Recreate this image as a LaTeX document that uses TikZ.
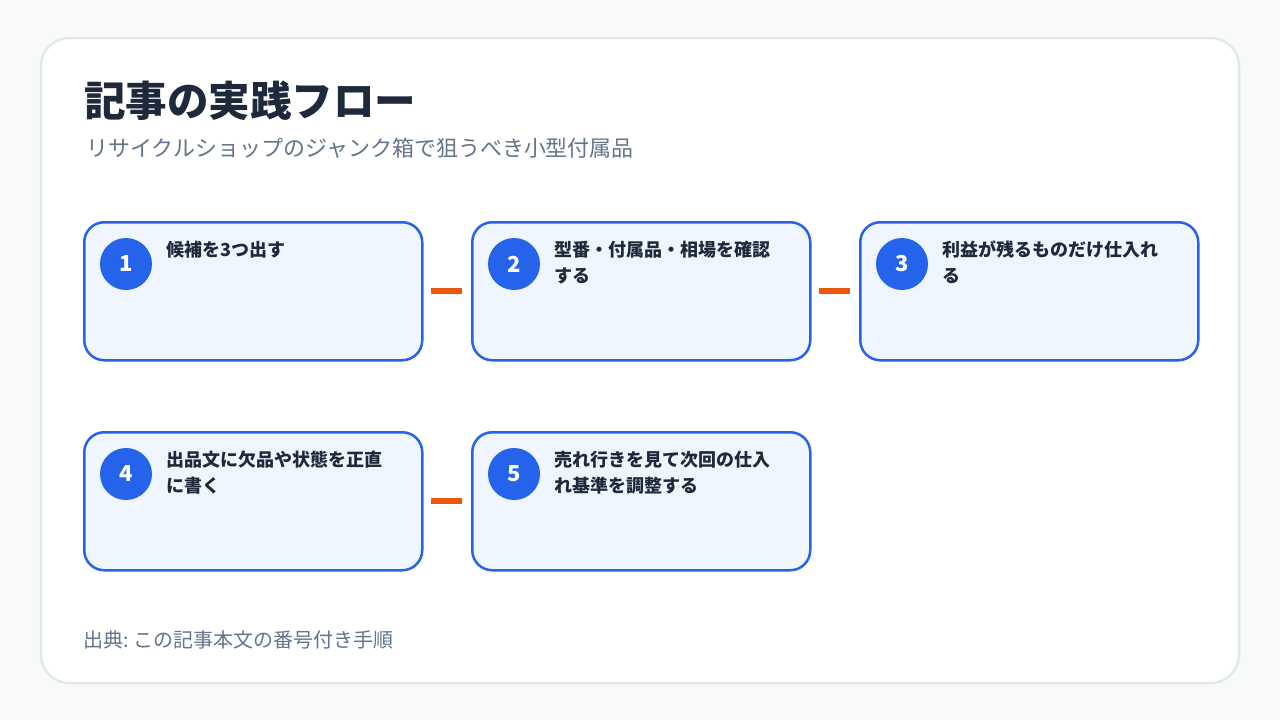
\documentclass[tikz,border=0pt]{standalone}
\usepackage{fontspec}
\setmainfont{Noto Sans CJK JP}
\usetikzlibrary{positioning}

\definecolor{pagebg}{HTML}{F8FAF9}
\definecolor{cardline}{HTML}{E2E8F0}
\definecolor{flowblue}{HTML}{2563EB}
\definecolor{stepfill}{HTML}{EFF6FF}
\definecolor{inktext}{HTML}{1E293B}
\definecolor{mutedtext}{HTML}{64748B}
\definecolor{linkorange}{HTML}{EA580C}

\tikzset{
  stepcard/.style={draw=flowblue, line width=2.5pt, fill=stepfill, rounded corners=20pt,
    minimum width=338pt, minimum height=138pt, anchor=north west, inner sep=0pt},
  stepnum/.style={circle, fill=flowblue, minimum size=52pt, inner sep=0pt, text=white,
    font=\bfseries\fontsize{22}{22}\selectfont},
  steptext/.style={anchor=north west, align=left, inner sep=0pt, text=inktext,
    font=\bfseries\fontsize{18}{26}\selectfont},
  flowlink/.style={draw=linkorange, line width=6pt, shorten <=7.5pt, shorten >=9.5pt}
}

\begin{document}
\begin{tikzpicture}[x=1pt, y=-1pt]
        % Page and card
        \fill[pagebg] (0,0) rectangle (1280,720);
        \useasboundingbox (0,0) rectangle (1280,720);
        \filldraw[fill=white, draw=cardline, line width=2.5pt, rounded corners=28pt] (41,38) rectangle (1239,683);

        % Heading
        \node[anchor=west, inner sep=0pt, text=inktext, font=\bfseries\fontsize{41.5}{42}\selectfont] (title) at (84,101) {記事の実践フロー};
        \node[anchor=west, inner sep=0pt, text=mutedtext, font=\fontsize{22}{22}\selectfont] (subtitle) at (86,148) {リサイクルショップのジャンク箱で狙うべき小型付属品};

        % Step cards, first row
        \node[stepcard] (s1) at (83,221) {};
        \node[stepcard] (s2) at (471,221) {};
        \node[stepcard] (s3) at (859,221) {};

        % Step cards, second row
        \node[stepcard] (s4) at (83,431) {};
        \node[stepcard] (s5) at (471,431) {};

        % Numbers
        \node[stepnum] (n1) at (126,264) {1};
        \node[stepnum] (n2) at (514,264) {2};
        \node[stepnum] (n3) at (902,264) {3};
        \node[stepnum] (n4) at (126,474) {4};
        \node[stepnum] (n5) at (514,474) {5};

        % Step texts
        \node[steptext] (t1) at (166,241) {候補を3つ出す};
        \node[steptext] (t2) at (554,241) {型番・付属品・相場を確認\\する};
        \node[steptext] (t3) at (942,241) {利益が残るものだけ仕入れ\\る};
        \node[steptext] (t4) at (166,451) {出品文に欠品や状態を正直\\に書く};
        \node[steptext] (t5) at (554,451) {売れ行きを見て次回の仕入\\れ基準を調整する};

        % Links between steps
        \draw[flowlink] (s1.east) -- (s2.west);
        \draw[flowlink] (s2.east) -- (s3.west);
        \draw[flowlink] (s4.east) -- (s5.west);

        % Source
        \node[anchor=west, inner sep=0pt, text=mutedtext, font=\fontsize{20}{20}\selectfont] (source) at (83,640) {出典:\ この記事本文の番号付き手順};
\end{tikzpicture}
\end{document}
